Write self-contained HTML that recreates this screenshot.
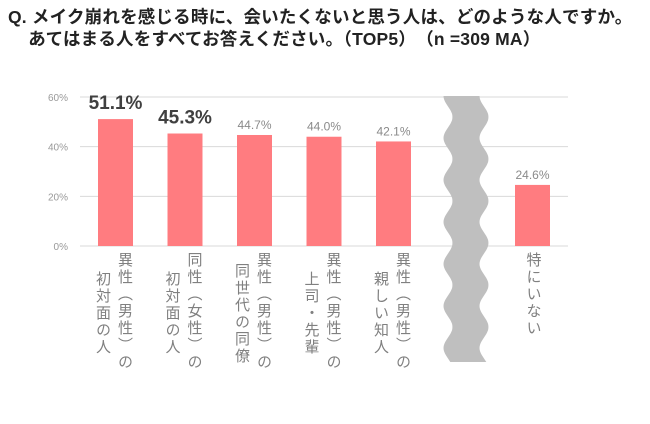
<!DOCTYPE html>
<html><head><meta charset="utf-8">
<style>
body{margin:0;background:#fff;width:650px;height:424px;overflow:hidden;font-family:"Liberation Sans","Noto Sans CJK JP",sans-serif;}
#title{position:absolute;left:8px;top:6px;font-size:17.5px;font-weight:bold;color:#222;line-height:22px;white-space:nowrap;letter-spacing:0.2px;}
svg{position:absolute;left:0;top:0;}
.vl{position:absolute;writing-mode:vertical-rl;font-size:15px;color:#808080;letter-spacing:2px;line-height:18px;}
</style></head><body>
<div id="title">Q. メイク崩れを感じる時に、会いたくないと思う人は、どのような人ですか。<br>&nbsp;&nbsp;&nbsp;&nbsp;あてはまる人をすべてお答えください。（TOP5）　（n =309 MA）</div>
<svg id="chart" width="650" height="424"></svg>
<div id="labels"></div>
<script>
const categories=[["異性（男性）の","初対面の人"],["同性（女性）の","初対面の人"],["異性（男性）の","同世代の同僚"],["異性（男性）の","上司・先輩"],["異性（男性）の","親しい知人"],["特にいない"]];
const values=[51.1,45.3,44.7,44.0,42.1,24.6];
const valueLabels=["51.1%","45.3%","44.7%","44.0%","42.1%","24.6%"];
const ticks=[0,20,40,60];
const tickLabels=["0%","20%","40%","60%"];
const slots=[0,1,2,3,4,6];
const NS="http://www.w3.org/2000/svg";
const svg=document.getElementById('chart');
const y0=246,pxPer=149/60;
const yS=v=>y0-v*pxPer;
const xS=i=>98+i*69.5;
function mk(t,a){const e=document.createElementNS(NS,t);for(const k in a)e.setAttribute(k,a[k]);svg.appendChild(e);return e;}
ticks.forEach((t,i)=>{
  const l=mk('line',{x1:80,x2:568,y1:yS(t),y2:yS(t),stroke:'#d9d9d9','stroke-width':1});
  
  
  const tx=mk('text',{x:68,y:yS(t)+4,'text-anchor':'end','font-size':10,fill:'#999'});
  tx.textContent=tickLabels[i];
  
  
});
// break shape
const brTop=96,brBot=362,per=42;
let pts=[];for(let y=brTop;y<=brBot;y+=2){pts.push([448-4.5*Math.cos((y-brTop)/per*2*Math.PI),y]);}
let d='M'+pts.map(p=>p[0].toFixed(1)+','+p[1]).join(' L');
let rp=[];for(let y=brBot;y>=brTop;y-=2){rp.push([484+4.5*Math.cos((y-brTop-21)/per*2*Math.PI),y]);}
d+=' L'+rp.map(p=>p[0].toFixed(1)+','+p[1]).join(' L')+'Z';
const br=mk('path',{d:d,fill:'#bfbfbf'});


values.forEach((v,i)=>{
  const x=xS(slots[i]);
  const r=mk('rect',{x:x,y:yS(v),width:35,height:y0-yS(v),fill:'#ff7c80'});
  
  
  const big=i<2;
  const t=mk('text',{x:x+17.5,y:big?yS(v)-10:yS(v)-6,'text-anchor':'middle','font-size':big?19:12,'font-weight':big?'bold':'normal',fill:big?'#404040':'#8a8a8a'});
  t.textContent=valueLabels[i];
  
  
  const cols=categories[i];
  cols.forEach((c,j)=>{
    const dv=document.createElement('div');
    dv.className='vl';
    dv.textContent=c;
    const cx=cols.length===2?(j===0?x+26:x+4):x+17.5;
    const topY=cols.length===2&&j===1?(c.length>5?263:271):252;
    dv.style.left=(cx-9)+'px';dv.style.top=topY+'px';
    
    
    document.getElementById('labels').appendChild(dv);
  });
});
</script>
</body></html>
